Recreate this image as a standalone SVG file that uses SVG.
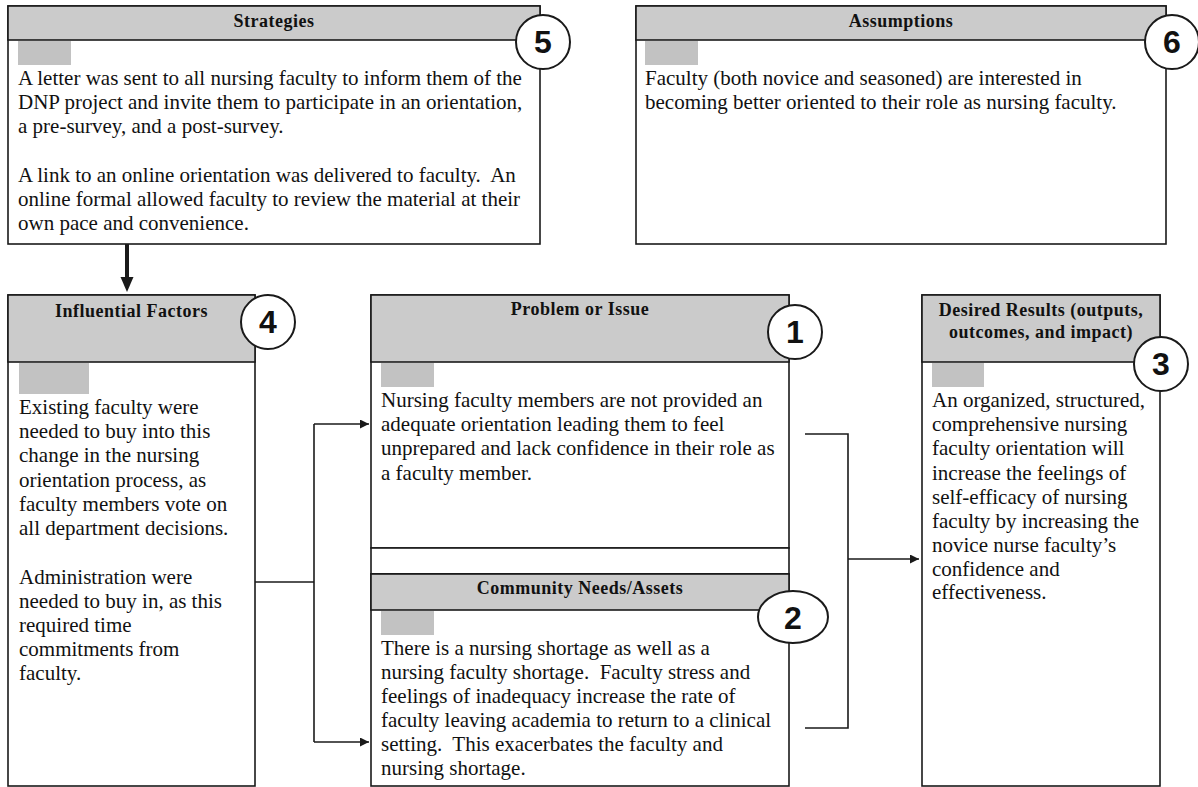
<svg xmlns="http://www.w3.org/2000/svg" width="1198" height="787" viewBox="0 0 1198 787">
<defs>
<style>
.box{fill:#fff;stroke:#1a1a1a;stroke-width:1.6}
.hdr{fill:#cbcbcb;stroke:#1a1a1a;stroke-width:1.6}
.tag{fill:#c2c2c2;stroke:none}
.ttl{font-family:"Liberation Serif","Times New Roman",serif;font-weight:bold;font-size:18px;letter-spacing:0.5px;fill:#111;text-anchor:middle}
.txt{font-family:"Liberation Serif","Times New Roman",serif;font-size:21px;fill:#111}
.num{fill:#fff;stroke:#1a1a1a;stroke-width:2}
.numt{font-family:"Liberation Sans",Arial,sans-serif;font-weight:bold;font-size:32px;fill:#111;text-anchor:middle}
.ln{fill:none;stroke:#1a1a1a;stroke-width:1.6}
</style>
<marker id="ah" viewBox="0 0 10 10" refX="10" refY="5" markerWidth="11" markerHeight="9" markerUnits="userSpaceOnUse" orient="auto">
<path d="M0,0 L10,5 L0,10 z" fill="#1a1a1a"/>
</marker>
</defs>
<rect width="1198" height="787" fill="#fff"/>

<g id="strategies">
<rect class="box" x="8" y="6" width="532" height="238"/>
<rect class="hdr" x="8" y="6" width="532" height="34"/>
<text class="ttl" x="274" y="27">Strategies</text>
<rect class="tag" x="18" y="41" width="53" height="24"/>
<text class="txt" xml:space="preserve"><tspan x="18" y="85">A letter was sent to all nursing faculty to inform them of the</tspan><tspan x="18" y="109">DNP project and invite them to participate in an orientation,</tspan><tspan x="18" y="133">a pre-survey, and a post-survey.</tspan><tspan x="18" y="182">A link to an online orientation was delivered to faculty.  An</tspan><tspan x="18" y="206">online formal allowed faculty to review the material at their</tspan><tspan x="18" y="230">own pace and convenience.</tspan></text>
<circle class="num" cx="543" cy="42" r="27"/>
<text class="numt" x="543" y="53">5</text>
</g>

<g id="assumptions">
<rect class="box" x="636" y="6" width="530" height="238"/>
<rect class="hdr" x="636" y="6" width="530" height="34"/>
<text class="ttl" x="901" y="27">Assumptions</text>
<rect class="tag" x="645" y="41" width="53" height="24"/>
<text class="txt"><tspan x="645" y="85">Faculty (both novice and seasoned) are interested in</tspan><tspan x="645" y="109">becoming better oriented to their role as nursing faculty.</tspan></text>
<circle class="num" cx="1172" cy="42" r="27"/>
<text class="numt" x="1172" y="53">6</text>
</g>

<g id="influential">
<rect class="box" x="8" y="295" width="247" height="491"/>
<rect class="hdr" x="8" y="295" width="247" height="67"/>
<text class="ttl" x="131.5" y="317">Influential Factors</text>
<rect class="tag" x="19" y="363" width="70" height="31"/>
<text class="txt"><tspan x="19" y="414">Existing faculty were</tspan><tspan x="19" y="438">needed to buy into this</tspan><tspan x="19" y="462">change in the nursing</tspan><tspan x="19" y="487">orientation process, as</tspan><tspan x="19" y="511">faculty members vote on</tspan><tspan x="19" y="535">all department decisions.</tspan><tspan x="19" y="584">Administration were</tspan><tspan x="19" y="608">needed to buy in, as this</tspan><tspan x="19" y="632">required time</tspan><tspan x="19" y="656">commitments from</tspan><tspan x="19" y="680">faculty.</tspan></text>
<circle class="num" cx="268" cy="322" r="27"/>
<text class="numt" x="268" y="333">4</text>
</g>

<g id="problem">
<rect class="box" x="371" y="295" width="418" height="253"/>
<rect class="hdr" x="371" y="295" width="418" height="67"/>
<text class="ttl" x="580" y="315">Problem or Issue</text>
<rect class="tag" x="381" y="363" width="53" height="24"/>
<text class="txt"><tspan x="381" y="407">Nursing faculty members are not provided an</tspan><tspan x="381" y="431">adequate orientation leading them to feel</tspan><tspan x="381" y="455">unprepared and lack confidence in their role as</tspan><tspan x="381" y="480">a faculty member.</tspan></text>
<circle class="num" cx="795" cy="332" r="27"/>
<text class="numt" x="795" y="343">1</text>
</g>

<g id="gap">
<rect class="box" x="371" y="548" width="418" height="26"/>
</g>

<g id="community">
<rect class="box" x="371" y="574" width="418" height="212"/>
<rect class="hdr" x="371" y="574" width="418" height="36"/>
<text class="ttl" x="580" y="594">Community Needs/Assets</text>
<rect class="tag" x="381" y="611" width="53" height="24"/>
<text class="txt" xml:space="preserve"><tspan x="381" y="655">There is a nursing shortage as well as a</tspan><tspan x="381" y="679">nursing faculty shortage.  Faculty stress and</tspan><tspan x="381" y="703">feelings of inadequacy increase the rate of</tspan><tspan x="381" y="727">faculty leaving academia to return to a clinical</tspan><tspan x="381" y="751">setting.  This exacerbates the faculty and</tspan><tspan x="381" y="775">nursing shortage.</tspan></text>
<ellipse class="num" cx="793" cy="617" rx="35" ry="26"/>
<text class="numt" x="793" y="629">2</text>
</g>

<g id="desired">
<rect class="box" x="922" y="295" width="238" height="491"/>
<rect class="hdr" x="922" y="295" width="238" height="67"/>
<text class="ttl"><tspan x="1041" y="316">Desired Results (outputs,</tspan><tspan x="1041" y="338">outcomes, and impact)</tspan></text>
<rect class="tag" x="932" y="363" width="52" height="24"/>
<text class="txt"><tspan x="932" y="407">An organized, structured,</tspan><tspan x="932" y="431">comprehensive nursing</tspan><tspan x="932" y="455">faculty orientation will</tspan><tspan x="932" y="480">increase the feelings of</tspan><tspan x="932" y="504">self-efficacy of nursing</tspan><tspan x="932" y="528">faculty by increasing the</tspan><tspan x="932" y="552">novice nurse faculty’s</tspan><tspan x="932" y="576">confidence and</tspan><tspan x="932" y="599">effectiveness.</tspan></text>
<circle class="num" cx="1161" cy="364" r="27"/>
<text class="numt" x="1161" y="375">3</text>
</g>

<g id="connectors">
<line x1="127" y1="244" x2="127" y2="279" stroke="#1a1a1a" stroke-width="4"/>
<path d="M120.5,277 L133.5,277 L127,292 z" fill="#1a1a1a"/>
<path class="ln" d="M255,582 H314"/>
<path class="ln" d="M314,424 V742"/>
<path class="ln" d="M314,424 H369" marker-end="url(#ah)"/>
<path class="ln" d="M314,742 H369" marker-end="url(#ah)"/>
<path class="ln" d="M805,434 H848 V728 H805"/>
<path class="ln" d="M848,559 H919" marker-end="url(#ah)"/>
</g>
</svg>
